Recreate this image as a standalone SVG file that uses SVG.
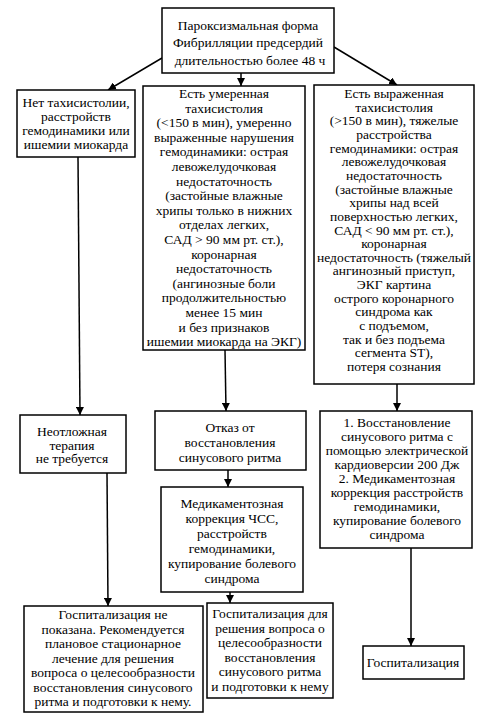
<svg xmlns="http://www.w3.org/2000/svg" width="488" height="718" viewBox="0 0 488 718">
<defs>
<marker id="ah" viewBox="0 0 10 10" refX="10" refY="5" markerWidth="8" markerHeight="8" markerUnits="userSpaceOnUse" orient="auto">
<path d="M0,0 L10,5 L0,10 z" fill="#000"/>
</marker>
<style>
rect{fill:#fff;stroke:#000;stroke-width:1.5}
text{font-family:"Liberation Serif","Times New Roman","DejaVu Serif",serif;font-size:13.5px;fill:#000;text-anchor:middle}
.c line{stroke:#000;stroke-width:1.5;marker-end:url(#ah)}
</style>
</defs>
<rect x="0" y="0" width="488" height="718" style="stroke:none"/>
<g class="c" id="connectors">
<line x1="162" y1="58" x2="108" y2="90"/>
<line x1="241" y1="73" x2="241" y2="86"/>
<line x1="334" y1="47" x2="397" y2="85"/>
<line x1="78" y1="157" x2="80" y2="415"/>
<line x1="107" y1="473" x2="108" y2="606"/>
<line x1="225" y1="350" x2="226" y2="411"/>
<line x1="228" y1="470" x2="228" y2="487"/>
<line x1="230" y1="592" x2="230" y2="603"/>
<line x1="397" y1="384" x2="397" y2="411"/>
<line x1="411" y1="548" x2="411" y2="646"/>
</g>
<g id="top">
<rect x="162" y="8" width="172" height="65"/>
<text x="248" y="30">Пароксизмальная форма</text>
<text x="248" y="47">Фибрилляции предсердий</text>
<text x="250" y="65">длительностью более 48 ч</text>
</g>
<g id="left1">
<rect x="17" y="90" width="118" height="67"/>
<text x="76" y="107">Нет тахисистолии,</text>
<text x="76" y="121">расстройств</text>
<text x="76" y="135">гемодинамики или</text>
<text x="76" y="149">ишемии миокарда</text>
</g>
<g id="mid1">
<rect x="143" y="86" width="162" height="264"/>
<text x="224" y="98">Есть умеренная</text>
<text x="224" y="112.6">тахисистолия</text>
<text x="224" y="127.2">(&lt;150 в мин), умеренно</text>
<text x="224" y="141.8">выраженные нарушения</text>
<text x="224" y="156.4">гемодинамики: острая</text>
<text x="224" y="171">левожелудочковая</text>
<text x="224" y="185.6">недостаточность</text>
<text x="224" y="200.2">(застойные влажные</text>
<text x="224" y="214.8">хрипы только в нижних</text>
<text x="224" y="229.4">отделах легких,</text>
<text x="224" y="244">САД &gt; 90 мм рт. ст.),</text>
<text x="224" y="258.6">коронарная</text>
<text x="224" y="273.2">недостаточность</text>
<text x="224" y="287.8">(ангинозные боли</text>
<text x="224" y="302.4">продолжительностью</text>
<text x="224" y="317">менее 15 мин</text>
<text x="224" y="331.6">и без признаков</text>
<text x="224" y="346.2">ишемии миокарда на ЭКГ)</text>
</g>
<g id="right1">
<rect x="314" y="85" width="160" height="299"/>
<text x="394" y="98">Есть выраженная</text>
<text x="394" y="111.65">тахисистолия</text>
<text x="394" y="125.3">(&gt;150 в мин), тяжелые</text>
<text x="394" y="138.95">расстройства</text>
<text x="394" y="152.6">гемодинамики: острая</text>
<text x="394" y="166.25">левожелудочковая</text>
<text x="394" y="179.9">недостаточность</text>
<text x="394" y="193.55">(застойные влажные</text>
<text x="394" y="207.2">хрипы над всей</text>
<text x="394" y="220.85">поверхностью легких,</text>
<text x="394" y="234.5">САД &lt; 90 мм рт. ст.),</text>
<text x="394" y="248.15">коронарная</text>
<text x="394" y="261.8">недостаточность (тяжелый</text>
<text x="394" y="275.45">ангинозный приступ,</text>
<text x="394" y="289.1">ЭКГ картина</text>
<text x="394" y="302.75">острого коронарного</text>
<text x="394" y="316.4">синдрома как</text>
<text x="394" y="330.05">с подъемом,</text>
<text x="394" y="343.7">так и без подъема</text>
<text x="394" y="357.35">сегмента ST),</text>
<text x="394" y="371">потеря сознания</text>
</g>
<g id="left2">
<rect x="20" y="415" width="106" height="58"/>
<text x="72" y="436">Неотложная</text>
<text x="72" y="449.7">терапия</text>
<text x="72" y="463.4">не требуется</text>
</g>
<g id="mid2">
<rect x="155" y="411" width="151" height="59"/>
<text x="230" y="432">Отказ от</text>
<text x="230" y="447">восстановления</text>
<text x="230" y="462">синусового ритма</text>
</g>
<g id="mid3">
<rect x="161" y="487" width="142" height="105"/>
<text x="232" y="508">Медикаментозная</text>
<text x="232" y="523">коррекция ЧСС,</text>
<text x="232" y="538">расстройств</text>
<text x="232" y="553">гемодинамики,</text>
<text x="232" y="568">купирование болевого</text>
<text x="232" y="583">синдрома</text>
</g>
<g id="right2">
<rect x="320" y="411" width="152" height="137"/>
<text x="397" y="427">1. Восстановление</text>
<text x="397" y="441">синусового ритма с</text>
<text x="397" y="455">помощью электрической</text>
<text x="397" y="469">кардиоверсии 200 Дж</text>
<text x="397" y="483">2. Медикаментозная</text>
<text x="397" y="497">коррекция расстройств</text>
<text x="397" y="511">гемодинамики,</text>
<text x="397" y="525">купирование болевого</text>
<text x="397" y="539">синдрома</text>
</g>
<g id="left3">
<rect x="24" y="606" width="179" height="106"/>
<text x="113" y="619">Госпитализация не</text>
<text x="113" y="633.5">показана. Рекомендуется</text>
<text x="113" y="648">плановое стационарное</text>
<text x="113" y="662.5">лечение для решения</text>
<text x="113" y="677">вопроса о целесообразности</text>
<text x="113" y="691.5">восстановления синусового</text>
<text x="113" y="706">ритма и подготовки к нему.</text>
</g>
<g id="mid4">
<rect x="207" y="603" width="126" height="95"/>
<text x="270" y="618">Госпитализация для</text>
<text x="270" y="632.5">решения вопроса о</text>
<text x="270" y="647">целесообразности</text>
<text x="270" y="661.5">восстановления</text>
<text x="270" y="676">синусового ритма</text>
<text x="270" y="690.5">и подготовки к нему</text>
</g>
<g id="right3">
<rect x="363" y="646" width="101" height="33"/>
<text x="413" y="667">Госпитализация</text>
</g>
</svg>
